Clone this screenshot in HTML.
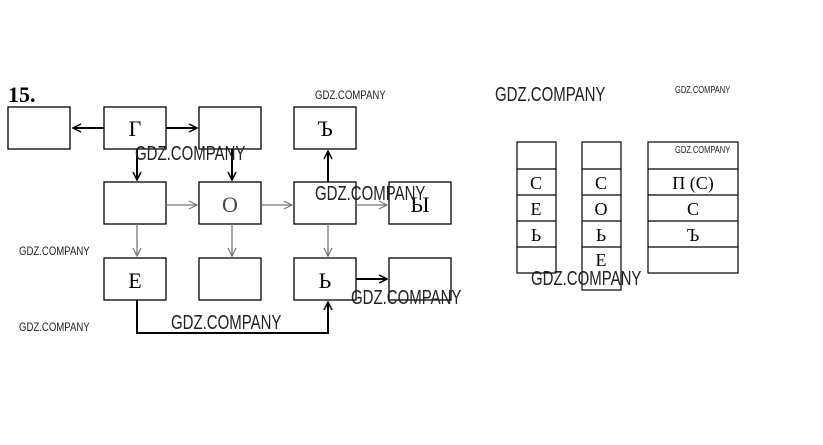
<!DOCTYPE html>
<html><head><meta charset="utf-8"><style>
body{margin:0;background:#fff}
svg text{font-family:"Liberation Serif",serif}
svg .w text{font-family:"Liberation Sans",sans-serif;fill:#222}
</style></head><body>
<svg width="823" height="440" viewBox="0 0 823 440" xmlns="http://www.w3.org/2000/svg">
<defs>
<marker id="a" markerWidth="10" markerHeight="10" refX="9" refY="5" orient="auto" markerUnits="userSpaceOnUse">
<path d="M1,1 L9,5 L1,9" fill="none" stroke="#000" stroke-width="1.5"/></marker>
<marker id="g" markerWidth="10" markerHeight="10" refX="9" refY="5" orient="auto" markerUnits="userSpaceOnUse">
<path d="M1,1 L9,5 L1,9" fill="none" stroke="#777" stroke-width="1.2"/></marker>
</defs>
<text x="8" y="102" font-size="22" font-weight="bold">15.</text>
<g fill="none" stroke="#000" stroke-width="1.3">
<rect x="8" y="107" width="62" height="42"/>
<rect x="104" y="107" width="62" height="42"/>
<rect x="199" y="107" width="62" height="42"/>
<rect x="294" y="107" width="62" height="42"/>
<rect x="104" y="182" width="62" height="42"/>
<rect x="199" y="182" width="62" height="42"/>
<rect x="294" y="182" width="62" height="42"/>
<rect x="389" y="182" width="62" height="42"/>
<rect x="104" y="258" width="62" height="42"/>
<rect x="199" y="258" width="62" height="42"/>
<rect x="294" y="258" width="62" height="42"/>
<rect x="389" y="258" width="62" height="42"/>
</g>
<g stroke="#000" stroke-width="2" fill="none">
<line x1="104" y1="128" x2="73" y2="128" marker-end="url(#a)"/>
<line x1="166" y1="128" x2="197" y2="128" marker-end="url(#a)"/>
<line x1="137" y1="149" x2="137" y2="180" marker-end="url(#a)"/>
<line x1="232" y1="149" x2="232" y2="180" marker-end="url(#a)"/>
<line x1="328" y1="182" x2="328" y2="151" marker-end="url(#a)"/>
<line x1="356" y1="279" x2="387" y2="279" marker-end="url(#a)"/>
<path d="M137,300 V333 H328 V302" marker-end="url(#a)"/>
</g>
<g stroke="#777" stroke-width="1.3" fill="none">
<line x1="166" y1="205" x2="197" y2="205" marker-end="url(#g)"/>
<line x1="261" y1="205" x2="292" y2="205" marker-end="url(#g)"/>
<line x1="356" y1="205" x2="387" y2="205" marker-end="url(#g)"/>
<line x1="137" y1="224" x2="137" y2="256" marker-end="url(#g)"/>
<line x1="232" y1="224" x2="232" y2="256" marker-end="url(#g)"/>
<line x1="328" y1="224" x2="328" y2="256" marker-end="url(#g)"/>
</g>
<g font-size="22" text-anchor="middle">
<text x="135" y="136">Г</text>
<text x="325" y="136">Ъ</text>
<text x="230" y="212" fill="#444">О</text>
<text x="420" y="212">Ы</text>
<text x="135" y="288">Е</text>
<text x="325" y="288">Ь</text>
</g>
<g fill="none" stroke="#000" stroke-width="1.2">
<rect x="517" y="142" width="39" height="131"/>
<line x1="517" y1="169" x2="556" y2="169"/><line x1="517" y1="195" x2="556" y2="195"/>
<line x1="517" y1="221" x2="556" y2="221"/><line x1="517" y1="247" x2="556" y2="247"/>
<rect x="582" y="142" width="39" height="148"/>
<line x1="582" y1="169" x2="621" y2="169"/><line x1="582" y1="195" x2="621" y2="195"/>
<line x1="582" y1="221" x2="621" y2="221"/><line x1="582" y1="247" x2="621" y2="247"/>
<rect x="648" y="142" width="90" height="131"/>
<line x1="648" y1="169" x2="738" y2="169"/><line x1="648" y1="195" x2="738" y2="195"/>
<line x1="648" y1="221" x2="738" y2="221"/><line x1="648" y1="247" x2="738" y2="247"/>
</g>
<g font-size="18" text-anchor="middle">
<text x="536" y="189">С</text><text x="536" y="215">Е</text><text x="536" y="241">Ь</text>
<text x="601" y="189">С</text><text x="601" y="215">О</text><text x="601" y="241">Ь</text><text x="601" y="266">Е</text>
<text x="693" y="189">П (С)</text><text x="693" y="215">С</text><text x="693" y="241">Ъ</text>
</g>
<g class="w">
<text x="315" y="99" font-size="12" transform="translate(315,0) scale(0.8,1) translate(-315,0)">GDZ.COMPANY</text>
<text x="495" y="101" font-size="20" transform="translate(495,0) scale(0.75,1) translate(-495,0)">GDZ.COMPANY</text>
<text x="675" y="93" font-size="10" transform="translate(675,0) scale(0.75,1) translate(-675,0)">GDZ.COMPANY</text>
<text x="675" y="153" font-size="10" transform="translate(675,0) scale(0.75,1) translate(-675,0)">GDZ.COMPANY</text>
<text x="135" y="160" font-size="20" transform="translate(135,0) scale(0.75,1) translate(-135,0)">GDZ.COMPANY</text>
<text x="315" y="200" font-size="20" transform="translate(315,0) scale(0.75,1) translate(-315,0)">GDZ.COMPANY</text>
<text x="19" y="255" font-size="12" transform="translate(19,0) scale(0.8,1) translate(-19,0)">GDZ.COMPANY</text>
<text x="19" y="331" font-size="12" transform="translate(19,0) scale(0.8,1) translate(-19,0)">GDZ.COMPANY</text>
<text x="171" y="329" font-size="20" transform="translate(171,0) scale(0.75,1) translate(-171,0)">GDZ.COMPANY</text>
<text x="351" y="304" font-size="20" transform="translate(351,0) scale(0.75,1) translate(-351,0)">GDZ.COMPANY</text>
<text x="531" y="285" font-size="20" transform="translate(531,0) scale(0.75,1) translate(-531,0)">GDZ.COMPANY</text>
</g>
</svg>
</body></html>
